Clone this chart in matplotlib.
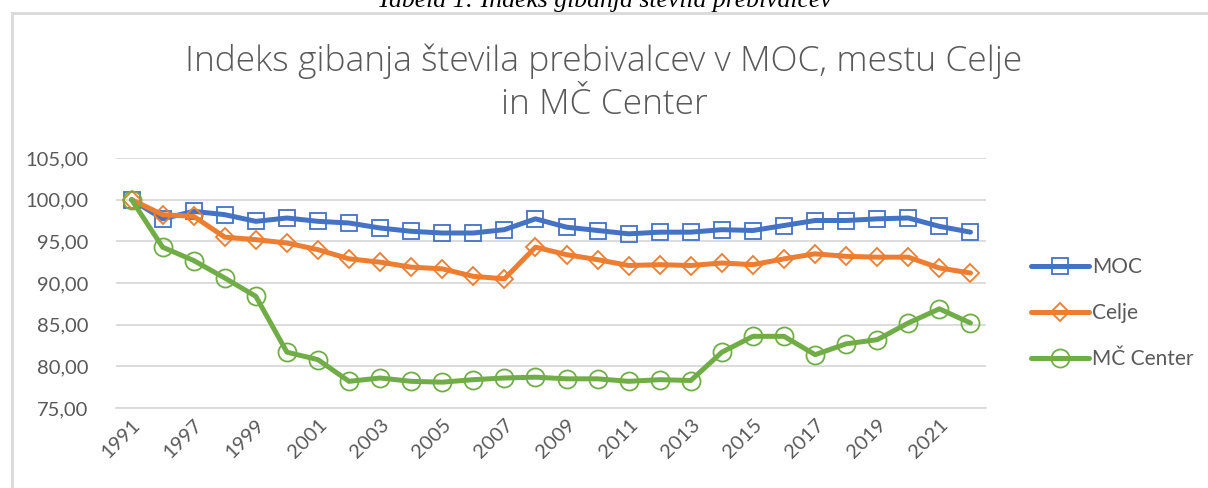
import matplotlib
matplotlib.use("Agg")
import matplotlib.pyplot as plt
from matplotlib.patches import Rectangle

years = ["1991", "1996", "1997", "1998", "1999", "2000", "2001", "2002", "2003", "2004",
         "2005", "2006", "2007", "2008", "2009", "2010", "2011", "2012", "2013", "2014",
         "2015", "2016", "2017", "2018", "2019", "2020", "2021", "2022"]
moc = [100.0, 97.7, 98.6, 98.2, 97.4, 97.8, 97.4, 97.2, 96.6, 96.2,
       96.0, 96.0, 96.4, 97.7, 96.7, 96.3, 95.9, 96.1, 96.1, 96.4,
       96.3, 96.9, 97.5, 97.5, 97.7, 97.8, 96.8, 96.1]
celje = [100.0, 98.2, 98.0, 95.5, 95.2, 94.8, 94.0, 92.9, 92.5, 91.9,
         91.7, 90.8, 90.5, 94.3, 93.4, 92.8, 92.1, 92.2, 92.1, 92.4,
         92.2, 92.9, 93.5, 93.2, 93.1, 93.1, 91.8, 91.2]
center = [100.0, 94.3, 92.7, 90.6, 88.4, 81.7, 80.8, 78.2, 78.6, 78.2,
          78.1, 78.4, 78.6, 78.7, 78.5, 78.5, 78.2, 78.4, 78.3, 81.7,
          83.6, 83.6, 81.4, 82.7, 83.2, 85.2, 86.9, 85.2]
series_names = ["MOC", "Celje", "MČ Center"]
yticks = [75, 80, 85, 90, 95, 100, 105]

plt.rcParams['font.family'] = ['Lato', 'DejaVu Sans']
txt = '#595959'

fig = plt.figure(figsize=(12.08, 4.88), dpi=100)
# chart frame
fig.patches.append(Rectangle((12/1208, -0.1), 1.2, (488-13)/488 + 0.1, transform=fig.transFigure,
                             fill=False, edgecolor='#d9d9d9', linewidth=2))
fig.text(0.5, 1 - 7/488, "Tabela 1: Indeks gibanja števila prebivalcev", ha='center', va='baseline',
         family='Liberation Serif', style='italic', fontsize=18.5, color='black')
fig.text(0.5, 1 - 83/488, "Indeks gibanja števila prebivalcev v MOC, mestu Celje\nin MČ Center",
         ha='center', va='center', fontsize=25.5, color=txt, family=['Open Sans', 'DejaVu Sans'],
         fontweight=300, linespacing=1.32)

ax = fig.add_axes([116/1208, (488-408)/488, (986-116)/1208, 250/488])
x = list(range(len(years)))
styles = [(moc, '#4472C4', 's'), (celje, '#ED7D31', 'D'), (center, '#70AD47', 'o')]
ms = [11, 9, 13]
for (vals, c, m), name, s in zip(styles, series_names, ms):
    ax.plot(x, vals, color=c, linewidth=3.6, marker=m, markersize=s,
            markerfacecolor='none', markeredgecolor=c, markeredgewidth=1.3,
            label=name, solid_joinstyle='round', solid_capstyle='round')

ax.set_xlim(-0.5, len(years) - 0.5)
ax.set_ylim(75, 105)
ax.set_yticks(yticks)
ax.set_yticklabels([f"{v:.2f}".replace('.', ',') for v in yticks], fontsize=14.5, color=txt)
ax.set_xticks(x[::2])
ax.set_xticklabels(years[::2], rotation=45, ha='right', rotation_mode='anchor', fontsize=14.5, color=txt)
ax.tick_params(axis='both', length=0)
ax.tick_params(axis='y', pad=20)
ax.tick_params(axis='x', pad=6)
ax.grid(axis='y', color='#d9d9d9', linewidth=1.3)
ax.set_axisbelow(True)
for sp in ['top', 'right', 'left']:
    ax.spines[sp].set_visible(False)
ax.spines['bottom'].set_color('#d9d9d9')
ax.spines['bottom'].set_linewidth(1.3)

leg = fig.legend(loc='center left', bbox_to_anchor=(1012/1208, 1 - 313/488), frameon=False,
                 fontsize=15, handlelength=2.8, labelspacing=1.25, handletextpad=0.15,
                 labelcolor=txt)

fig.savefig("out.png", dpi=100)
